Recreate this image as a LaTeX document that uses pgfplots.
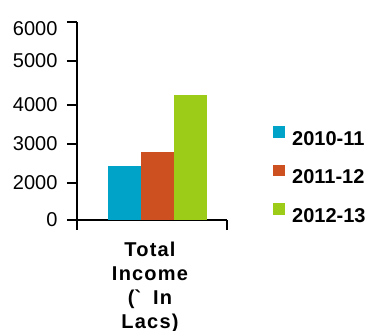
\documentclass[border=0pt]{standalone}
\usepackage{fontspec}
\setmainfont{Liberation Sans}
\newfontfamily\xlabfont[LetterSpace=6]{Liberation Sans}
\usepackage{pgfplots}
\pgfplotsset{compat=1.18}
\definecolor{cblue}{HTML}{00A3C8}
\definecolor{corange}{HTML}{CC5020}
\definecolor{cgreen}{HTML}{9CCC18}
\begin{document}
\begin{tikzpicture}
\begin{axis}[
  scale only axis, width=150pt, height=198pt,
  axis x line*=bottom, axis y line*=left,
  axis line style={line width=1.8pt,-},
  every tick/.style={line width=1.8pt, black},
  tick align=outside, major tick length=10pt,
  xmin=0, xmax=1, ymin=0, ymax=6000,
  xtick={0,1}, xticklabels={,},
  ytick={0,2000,3000,4000,5000,6000},
  yticklabels={0,2000,3000,4000,5000,\raisebox{-13pt}[0pt][0pt]{6000}},
  y coord trafo/.code={\pgfmathparse{#1<2000 ? #1*0.0185 : (#1<3000 ? 37+(#1-2000)*0.039 : (#1<4000 ? 76+(#1-3000)*0.039 : (#1<5000 ? 115+(#1-4000)*0.044 : 159+(#1-5000)*0.039)))}},
  /pgf/number format/assume math mode=true,
  yticklabel style={font=\fontsize{20}{24}\selectfont, xshift=-6pt},
  ybar=0pt, bar width=33pt,
  xlabel={Total\\Income\\(\textasciigrave\hspace{12pt}In\\Lacs)},
  xlabel style={at={(axis description cs:0.5,0)}, anchor=north, yshift=-22pt, xshift=-2pt,
    inner sep=0pt, align=center, font=\xlabfont\bfseries\fontsize{20}{24}\selectfont},
  legend style={at={(1.3067,0.227)}, anchor=west, draw=none, fill=none, inner sep=0pt,
    row sep=17.7pt, column sep=7pt, font=\bfseries\fontsize{20}{24}\selectfont,
    nodes={inner sep=0pt}},
  legend cell align=left,
  legend image code/.code={\fill[#1,draw=none] (0pt,1.5pt) rectangle (12pt,13pt);},
]
\addplot[fill=cblue, draw=none] coordinates {(0.537,2436)};
\addplot[fill=corange, draw=none] coordinates {(0.537,2795)};
\addplot[fill=cgreen, draw=none] coordinates {(0.537,4227)};
\legend{2010-11,2011-12,2012-13}
\end{axis}
\pgfresetboundingbox
\path (current axis.south west) ++(-77pt,-110pt) rectangle ++(374pt,330pt);
\end{tikzpicture}
\end{document}
